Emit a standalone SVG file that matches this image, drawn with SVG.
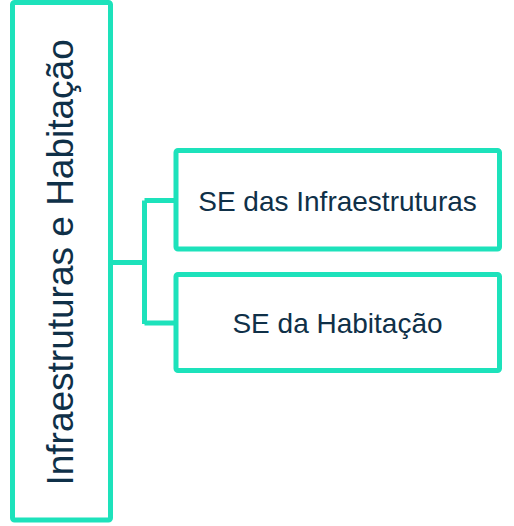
<svg xmlns="http://www.w3.org/2000/svg" width="514" height="526" viewBox="0 0 514 526">
<style>
.box{fill:#ffffff;stroke:#1de2bb;stroke-width:5}
.conn{fill:none;stroke:#1de2bb;stroke-width:5}
.lbl{font-family:"Liberation Sans",Arial,sans-serif;fill:#0f3048;text-anchor:middle}
</style>
<rect width="514" height="526" fill="#ffffff"/>
<g id="connectors">
<path class="conn" d="M113 262.5H144.5M144.5 200.5V324M144.5 200.5H176M144.5 323H176"/>
</g>
<g id="root">
<rect class="box" x="12.5" y="2.5" width="98" height="517.5" rx="2"/>
<text class="lbl" font-size="37" transform="translate(73.3,262.4) rotate(-90)">Infraestruturas e Habitação</text>
</g>
<g id="infra">
<rect class="box" x="176" y="150.5" width="323.5" height="98.5" rx="2"/>
<text class="lbl" font-size="28" x="337.5" y="210.7">SE das Infraestruturas</text>
</g>
<g id="habitacao">
<rect class="box" x="176" y="274.5" width="323.5" height="96" rx="2"/>
<text class="lbl" font-size="28" x="337.5" y="333.3">SE da Habitação</text>
</g>
</svg>
